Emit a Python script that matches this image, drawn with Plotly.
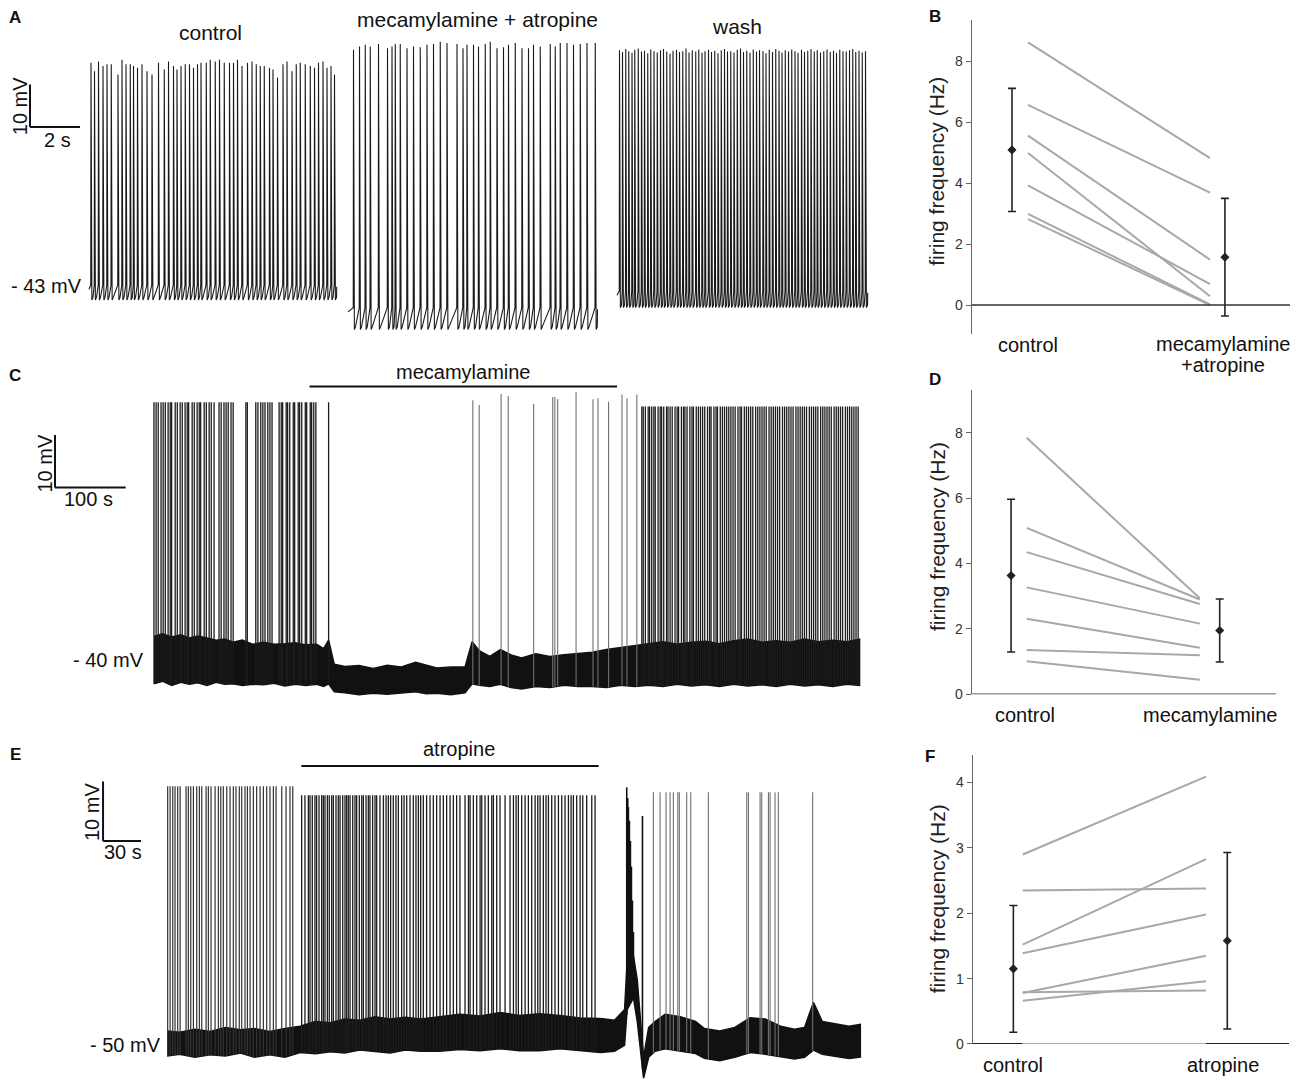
import numpy as np
import plotly.graph_objects as go

W, H = 1300, 1092
FONT = "Arial, Liberation Sans, Helvetica, sans-serif"

# ---------------- Panel A: spike times (s) and peaks (mV) ----------------
A_CTRL_T = [0.03,0.17,0.33,0.51,0.67,0.84,1.11,1.27,1.43,1.60,
            1.73,1.89,2.07,2.27,2.47,2.73,2.96,3.13,3.33,3.47,
            3.63,3.80,3.97,4.13,4.29,4.43,4.64,4.80,5.00,5.17,
            5.36,5.57,5.73,5.89,6.07,6.29,6.47,6.64,6.80,6.96,
            7.17,7.31,7.49,7.71,7.87,8.07,8.24,8.40,8.60,8.80,
            8.97,9.13,9.31,9.47,9.63,9.77]
A_CTRL_P = [9.3,7.3,9.6,8.5,8.9,8.9,6.5,10.0,8.9,8.9,
            8.5,8.1,8.9,7.3,6.5,9.3,7.7,9.6,8.5,7.7,
            8.5,8.9,8.9,8.1,8.9,9.3,9.3,10.0,9.6,10.0,
            9.3,9.3,9.3,10.0,8.5,9.3,9.6,8.9,8.5,8.5,
            8.1,7.7,5.8,8.9,9.6,7.3,8.9,9.3,8.9,8.5,
            8.1,9.3,9.6,8.1,8.5,6.5]
A_MEC_T = [0.17,0.41,0.64,0.84,1.17,1.53,1.71,1.84,2.04,2.31,
           2.57,2.84,3.11,3.37,3.64,3.91,4.31,4.55,4.71,4.97,
           5.17,5.44,5.64,5.91,6.17,6.37,6.64,6.91,7.17,7.37,
           7.64,8.04,8.24,8.44,8.71,8.97,9.24,9.51,9.84]
A_MEC_P = [12.3,13.1,13.5,13.1,13.7,12.7,13.1,13.7,13.7,12.7,
           13.1,12.9,13.5,13.7,14.2,13.9,13.7,12.7,13.5,13.5,
           13.1,13.7,14.2,12.7,12.9,13.5,13.9,12.7,12.7,13.5,
           13.1,13.7,13.1,13.9,13.9,13.5,13.7,13.9,13.9]
A_WASH_T = [0.05,0.17,0.30,0.42,0.55,0.66,0.80,0.93,1.05,1.18,
            1.30,1.43,1.56,1.69,1.81,1.94,2.07,2.19,2.33,2.45,
            2.58,2.71,2.83,2.96,3.10,3.22,3.35,3.47,3.61,3.73,
            3.86,3.99,4.12,4.25,4.37,4.50,4.63,4.76,4.89,5.01,
            5.14,5.27,5.40,5.53,5.65,5.79,5.91,6.04,6.17,6.30,
            6.43,6.55,6.68,6.81,6.94,7.07,7.19,7.33,7.45,7.58,
            7.71,7.84,7.96,8.09,8.22,8.35,8.48,8.61,8.73,8.86,
            8.99,9.12,9.25,9.38,9.50,9.63,9.76,9.89]
A_WASH_P = [12.2,11.8,12.5,12.0,11.6,12.3,12.6,11.9,12.1,11.5,
            12.4,12.0,11.7,12.2,12.5,11.9,11.4,12.1,12.3,11.8,
            12.0,12.6,11.7,12.2,11.9,12.4,11.6,12.0,12.3,11.8,
            12.1,11.5,12.2,12.5,11.9,12.0,11.7,12.3,12.6,11.8,
            12.1,11.6,12.4,11.9,12.2,12.0,11.5,12.3,11.8,12.5,
            12.1,11.7,12.2,11.9,12.4,12.0,11.6,12.3,11.8,12.1,
            12.5,11.9,12.2,11.7,12.0,12.4,11.8,12.1,11.6,12.3,
            12.0,11.9,12.2,12.5,11.8,12.1,11.7,12.0]
# threshold / trough levels (mV) for each recording
A_LEVELS = {"control": (-42.8, -46.3), "mec": (-48.1, -53.2), "wash": (-44.2, -48.1)}

# ---------------- Panel C ----------------
C_PRE_T = [0,3,6,10,13,16,20,23,25,30,33,37,40,44,47,49,54,57,61,64,66,71,74,78,81,85,
           92,95,99,102,105,109,112,130,132,144,147,151,154,157,161,164,167,177,180,182,
           187,189,192,197,199,204,206,209,214,216,221,223,226,229,247]
C_PRE_PEAK = 9.0
C_MID_T = [451,460,491,501,537,564,567,571,597,621,628,643,662,669,683]
C_MID_P = [9.4,8.5,10.6,10.2,8.7,10.0,10.0,9.6,10.9,9.6,9.8,9.1,10.5,9.8,10.5]
C_POST_T = [690,692,695,699,701,704,707,709,713,716,718,721,725,727,730,733,737,740,742,746,
            749,751,754,758,761,763,767,770,773,776,779,783,786,788,792,795,797,801,804,807,
            810,813,816,819,822,826,829,831,835,838,841,844,847,851,854,857,860,863,866,870,
            873,876,879,882,885,889,892,895,898,901,904,908,911,914,917,920,923,927,930,933,
            936,939,943,946,949,952,955,958,962,965,968,971,974,978,981,984,987,990,993,996]
C_POST_PEAK = 8.2
C_ENV_T = [0,12,25,38,50,62,75,88,100,112,125,140,155,170,185,200,215,230,240,247,
           255,270,290,310,330,350,370,385,400,420,440,450,460,475,490,505,520,540,560,580,
           600,620,640,660,680,700,720,740,760,780,800,820,840,860,880,900,920,940,960,980,998]
C_ENV_LO = [-44.5,-44.0,-44.8,-44.2,-44.6,-44.3,-44.8,-44.2,-44.6,-44.5,
            -44.8,-44.6,-44.7,-44.4,-44.9,-44.6,-44.8,-44.6,-45.0,-44.5,
            -46.0,-46.2,-46.6,-46.3,-46.5,-46.2,-46.0,-46.4,-46.3,-46.6,
            -46.2,-44.5,-44.8,-45.0,-44.6,-45.2,-45.5,-45.0,-45.2,-44.8,
            -45.0,-45.0,-45.2,-44.8,-45.0,-44.8,-45.0,-44.6,-44.9,-44.7,
            -45.0,-44.6,-44.9,-44.7,-45.0,-44.6,-44.9,-44.7,-45.0,-44.6,-44.8]
C_ENV_HI = [-35.5,-35.0,-35.6,-35.2,-35.8,-35.4,-35.8,-36.2,-36.0,-36.6,
            -36.2,-37.0,-36.6,-37.0,-36.9,-36.7,-37.1,-37.0,-37.8,-36.2,
            -40.8,-41.2,-41.0,-41.6,-41.0,-41.3,-40.4,-41.0,-41.5,-41.3,
            -41.3,-36.5,-38.2,-39.3,-38.0,-39.0,-39.6,-38.8,-39.3,-39.0,
            -38.8,-38.5,-38.0,-37.6,-37.2,-36.8,-36.5,-37.0,-36.6,-36.4,
            -36.9,-36.3,-36.0,-36.6,-36.3,-36.6,-36.0,-36.5,-36.2,-36.5,-36.0]
C_DRUG = (220, 655)

# ---------------- Panel E ----------------
E_PRE_T = [0.5,2.4,4.5,6.3,8.4,10.3,15.0,16.8,18.7,20.8,23.4,25.5,27.4,30.8,32.6,34.7,37.9,40.5,42.4,44.4,
           47.1,49.7,52.3,54.4,57.0,58.9,61.5,63.4,65.5,68.1,70.7,73.4,76.0,78.6,81.2,83.9,86.0,90.5,93.9,97.0,99.2]
E_PRE_PEAK = -6.5
E_ATR_T = [106.2,108.8,111.5,112.8,114.6,116.7,118.0,119.9,122.0,123.3,124.6,126.5,128.0,129.9,131.2,133.3,
           135.1,136.5,138.6,140.4,141.7,143.0,144.4,146.5,148.3,149.6,151.7,153.6,154.9,157.0,158.8,160.1,
           162.2,164.1,165.4,168.0,170.7,172.8,174.6,176.4,178.5,180.6,182.5,185.1,187.0,189.1,191.7,194.3,
           196.4,198.3,200.1,202.2,204.8,207.5,210.1,212.7,215.4,218.0,220.6,223.3,225.9,228.5,231.1,235.1,
           237.8,239.1,241.7,244.3,247.0,248.3,250.9,253.5,256.2,257.5,260.1,262.7,266.7,270.6,273.3,275.4,
           277.2,279.8,282.5,285.1,287.7,290.4,292.5,294.3,296.9,299.0,300.9,303.5,306.1,308.8,311.4,314.0,
           316.7,318.8,320.6,323.2,325.9,328.0,331.1,335.1,337.7]
E_ATR_PEAK = -8.0
E_BLOCK_T = [362.7,363.5,364.0,364.8,365.6,366.4,367.2,368.0,369.0,375.1]
E_BLOCK_P = [-6.7,-8.5,-10.0,-12.3,-15.7,-20.0,-25.7,-31.0,-36.7,-11.5]
E_POST_T = [383.7,389.0,393.7,396.9,399.5,403.0,404.2,410.0,413.2,427.1,457.4,458.7,467.9,469.2,
            474.5,475.8,479.7,482.3,509.4]
E_POST_PEAK = -7.5
E_ENV_T = [0,10,22,34,46,58,69,81,93,105,117,129,140,152,164,176,188,200,215,231,
           247,263,278,294,310,326,342,353,361,363,368,371,374,376,380,385,393,405,417,424,
           436,448,460,472,484,495,503,510,517,527,538,547]
E_ENV_LO = [-51.8,-51.5,-52.0,-51.6,-51.8,-51.3,-52.0,-51.6,-52.0,-51.2,
            -51.4,-51.1,-51.3,-50.8,-51.0,-51.3,-50.8,-51.0,-51.0,-50.7,
            -50.9,-50.6,-50.9,-50.9,-50.6,-50.9,-51.2,-51.0,-50.0,-44.0,
            -42.0,-46.0,-52.0,-55.5,-52.0,-51.0,-50.6,-51.0,-51.4,-52.2,
            -52.6,-52.0,-51.2,-51.5,-51.9,-52.3,-52.0,-50.8,-51.5,-51.9,
            -52.2,-52.0]
E_ENV_HI = [-47.6,-47.8,-47.3,-47.7,-47.0,-47.4,-47.2,-47.7,-47.2,-46.8,
            -46.0,-46.2,-45.6,-45.8,-45.2,-45.6,-45.3,-45.6,-45.2,-44.8,
            -45.1,-44.5,-45.0,-44.7,-45.0,-45.4,-45.5,-45.8,-44.0,-36.0,
            -35.0,-39.0,-47.0,-52.0,-47.0,-46.0,-44.8,-45.2,-46.0,-47.2,
            -47.6,-47.0,-45.4,-45.6,-46.8,-47.3,-47.0,-42.8,-46.0,-46.4,
            -46.8,-46.5]
E_DRUG = (106, 340.5)

# ---------------- Panels B, D, F: firing frequency (Hz) ----------------
B_CTRL = [8.62, 6.57, 5.56, 4.99, 3.93, 2.99, 2.82]
B_TRT = [4.82, 3.69, 1.49, 0.29, 0.69, 0.02, 0.00]
B_MEAN = [5.09, 1.57]
B_SD = [2.02, 1.93]
D_CTRL = [7.85, 5.09, 4.35, 3.27, 2.31, 1.35, 1.01]
D_TRT = [2.94, 2.90, 2.76, 2.16, 1.42, 1.19, 0.44]
D_MEAN = [3.63, 1.95]
D_SD = [2.34, 0.965]
F_CTRL = [2.90, 2.35, 1.52, 1.39, 0.78, 0.79, 0.66]
F_TRT = [4.09, 2.38, 2.83, 1.98, 1.35, 0.82, 0.96]
F_MEAN = [1.15, 1.58]
F_SD = [0.97, 1.35]


def dom_x(a, b):
    return [a / W, b / W]


def dom_y(top, bottom):
    return [1 - bottom / H, 1 - top / H]


fig = go.Figure()

# ---- Panel A traces
def a_wave(times, peaks, thr, trough, offset, seg_end):
    xs = [offset - 0.04]
    ys = [thr - 1.0]
    for i, (t, p) in enumerate(zip(times, peaks)):
        nxt = times[i + 1] if i + 1 < len(times) else seg_end
        xs += [offset + t, offset + t + 0.01, offset + t + 0.045, offset + t + 0.09]
        ys += [thr, p, trough, trough + 0.6]
        xs.append(offset + max(t + 0.1, nxt - 0.02))
        ys.append(thr - 0.4)
    return xs, ys

for times, peaks, key, off, end in [
    (A_CTRL_T, A_CTRL_P, "control", 0.0, 9.8),
    (A_MEC_T, A_MEC_P, "mec", 10.36, 9.96),
    (A_WASH_T, A_WASH_P, "wash", 21.12, 10.0),
]:
    thr, tr = A_LEVELS[key]
    xs, ys = a_wave(times, peaks, thr, tr, off, end)
    fig.add_trace(go.Scatter(x=xs, y=ys, mode="lines", line=dict(color="#1a1a1a", width=1.1),
                             xaxis="x", yaxis="y", hoverinfo="skip", showlegend=False))

# ---- Panels C and E traces
def band_and_spikes(env_t, env_lo, env_hi, groups, xa, ya):
    fig.add_trace(go.Scatter(x=list(env_t) + list(env_t[::-1]), y=list(env_hi) + list(env_lo[::-1]),
                             mode="lines", fill="toself", fillcolor="#111111",
                             line=dict(color="#111111", width=1.5), xaxis=xa, yaxis=ya,
                             hoverinfo="skip", showlegend=False))
    for times, peaks, color, width in groups:
        xs, ys = [], []
        for t, p in zip(times, peaks):
            foot = float(np.interp(t, env_t, env_lo))
            xs += [t, t, None]
            ys += [foot, p, None]
        fig.add_trace(go.Scatter(x=xs, y=ys, mode="lines", line=dict(color=color, width=width),
                                 xaxis=xa, yaxis=ya, hoverinfo="skip", showlegend=False))

DENSE, SPARSE = ("#1c1c1c", 1.3), ("#707070", 1.1)
band_and_spikes(C_ENV_T, C_ENV_LO, C_ENV_HI,
                [(C_PRE_T, [C_PRE_PEAK] * len(C_PRE_T), *DENSE), (C_MID_T, C_MID_P, *SPARSE),
                 (C_POST_T, [C_POST_PEAK] * len(C_POST_T), *DENSE)], "x3", "y3")
band_and_spikes(E_ENV_T, E_ENV_LO, E_ENV_HI,
                [(E_PRE_T, [E_PRE_PEAK] * len(E_PRE_T), "#333333", 1.2),
                 (E_ATR_T, [E_ATR_PEAK] * len(E_ATR_T), *DENSE),
                 (E_BLOCK_T, E_BLOCK_P, "#111111", 1.6),
                 (E_POST_T, [E_POST_PEAK] * len(E_POST_T), *SPARSE)], "x5", "y5")

# ---- Panels B, D, F
def freq_panel(ctrl, trt, mean, sd, xa, ya, ebx):
    for c, t in zip(ctrl, trt):
        fig.add_trace(go.Scatter(x=[0, 1], y=[c, t], mode="lines", line=dict(color="#a8a8a8", width=2),
                                 xaxis=xa, yaxis=ya, hoverinfo="skip", showlegend=False))
    fig.add_trace(go.Scatter(x=ebx, y=mean, mode="markers",
                             marker=dict(symbol="diamond", size=7, color="#222222"),
                             error_y=dict(type="data", array=sd, color="#222222", thickness=1.6, width=4),
                             xaxis=xa, yaxis=ya, hoverinfo="skip", showlegend=False))

freq_panel(B_CTRL, B_TRT, B_MEAN, B_SD, "x2", "y2", [-0.088, 1.082])
freq_panel(D_CTRL, D_TRT, D_MEAN, D_SD, "x4", "y4", [-0.09, 1.115])
freq_panel(F_CTRL, F_TRT, F_MEAN, F_SD, "x6", "y6", [-0.051, 1.116])

hidden = dict(visible=False, showgrid=False, zeroline=False, fixedrange=True)

def yfreq(domain, rng, tickvals):
    return dict(domain=domain, range=rng, showgrid=False, zeroline=False, showline=True,
                linecolor="#666666", linewidth=1.3, ticks="outside", ticklen=5, tickcolor="#666666",
                tickvals=tickvals, tickfont=dict(size=14, color="#333333", family=FONT), fixedrange=True)

fig.update_layout(
    width=W, height=H, margin=dict(l=0, r=0, t=0, b=0),
    paper_bgcolor="white", plot_bgcolor="rgba(0,0,0,0)",
    font=dict(family=FONT, color="#111111"),
    xaxis=dict(hidden, domain=dom_x(0, 900), range=[-3.6, 32.4], anchor="y"),
    yaxis=dict(hidden, domain=dom_y(0, 345), range=[-56.26, 23.98], anchor="x"),
    xaxis3=dict(hidden, domain=dom_x(0, 900), range=[-217.8, 1055.2], anchor="y3"),
    yaxis3=dict(hidden, domain=dom_y(360, 720), range=[-50.38, 17.55], anchor="x3"),
    xaxis5=dict(hidden, domain=dom_x(0, 900), range=[-131.8, 578.3], anchor="y5"),
    yaxis5=dict(hidden, domain=dom_y(740, 1092), range=[-56.5, 2.17], anchor="x5"),
    xaxis2=dict(hidden, domain=dom_x(971.7, 1290), range=[-0.3093, 1.4396], anchor="y2"),
    yaxis2=dict(yfreq(dom_y(20, 336.7), [-0.958, 9.358], [0, 2, 4, 6, 8]), anchor="x2"),
    xaxis4=dict(hidden, domain=dom_x(971.7, 1283), range=[-0.3174, 1.4806], anchor="y4"),
    yaxis4=dict(yfreq(dom_y(393, 699.3), [0, 9.31], [0, 2, 4, 6, 8]), anchor="x4"),
    xaxis6=dict(hidden, domain=dom_x(972.7, 1289), range=[-0.2728, 1.4526], anchor="y6"),
    yaxis6=dict(yfreq(dom_y(760.7, 1051.7), [0, 4.42], [0, 1, 2, 3, 4]), anchor="x6"),
)

shapes = []
def seg(xr, yr, x0, y0, x1, y1, color="#111111", width=2):
    shapes.append(dict(type="line", xref=xr, yref=yr, x0=x0, y0=y0, x1=x1, y1=y1,
                       line=dict(color=color, width=width), layer="above"))

# scale bars
seg("x", "y", -2.4, -5.8, -2.4, 4.2)
seg("x", "y", -2.4, -5.8, -0.4, -5.8)
seg("x3", "y3", -140, -7.2, -140, 2.8)
seg("x3", "y3", -140, -7.2, -40, -7.2)
seg("x5", "y5", -50.5, -15.7, -50.5, -5.7)
seg("x5", "y5", -50.5, -15.7, -20.5, -15.7)
# drug application bars
seg("x3", "y3", C_DRUG[0], 12.0, C_DRUG[1], 12.0)
seg("x5", "y5", E_DRUG[0], -3.1, E_DRUG[1], -3.1)
# zero lines of frequency panels
seg("x2", "y2", -0.33, 0, 1.4396, 0, "#333333", 1.6)
seg("x4", "y4", -0.33, 0, 1.44, 0, "#333333", 1.6)
seg("x6", "y6", -0.29, 0, 0.0, 0, "#222222", 1.8)
seg("x6", "y6", 0.0, 0, 1.0, 0, "#aaaaaa", 1.8)
seg("x6", "y6", 1.0, 0, 1.4526, 0, "#222222", 1.8)
fig.update_layout(shapes=shapes)

ann = []
def txt(s, x, y, size=20, bold=False, angle=0, color="#111111"):
    ann.append(dict(text=f"<b>{s}</b>" if bold else s, x=x / W, y=1 - y / H, xref="paper", yref="paper",
                    showarrow=False, xanchor="center", yanchor="middle", textangle=angle,
                    font=dict(size=size, family=FONT, color=color)))

for s, x, y in [("A", 15, 18), ("B", 935, 17), ("C", 15, 378), ("D", 935, 382), ("E", 15, 760), ("F", 930, 762)]:
    txt(s, x, y, 17, True)
txt("control", 210, 33, 21)
txt("mecamylamine + atropine", 477, 20, 21)
txt("wash", 737, 27, 21)
txt("- 43 mV", 46, 288, 20)
txt("10 mV", 20, 107, 20, angle=-90)
txt("2 s", 57, 141, 20)
txt("mecamylamine", 463, 375, 20)
txt("10 mV", 45, 467, 20, angle=-90)
txt("100 s", 88, 503, 20)
txt("- 40 mV", 108, 665, 20)
txt("atropine", 459, 755, 20)
txt("10 mV", 92, 818, 20, angle=-90)
txt("30 s", 123, 858, 20)
txt("- 50 mV", 125, 1053, 20)
for yc in (172, 540, 905):
    txt("firing frequency (Hz)", 937, yc, 21, angle=-90, color="#222222")
txt("control", 1028, 348, 20)
txt("mecamylamine", 1223, 347, 20)
txt("+atropine", 1223, 368, 20)
txt("control", 1025, 720, 20)
txt("mecamylamine", 1210, 720, 20)
txt("control", 1013, 1073, 20)
txt("atropine", 1223, 1073, 20)
fig.update_layout(annotations=ann)

fig.write_html("out.html", config={"displayModeBar": False},
               post_script="document.body.style.margin='0';")
